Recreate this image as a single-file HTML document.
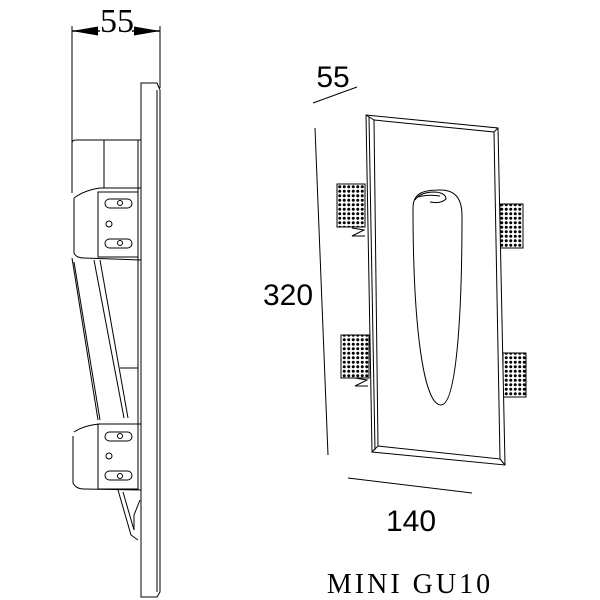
<!DOCTYPE html>
<html><head><style>body{margin:0;background:#fff}svg{display:block}</style></head><body>
<svg width="600" height="600" viewBox="0 0 600 600" xmlns="http://www.w3.org/2000/svg">
<defs>
<pattern id="dots" width="4.5" height="4.5" patternUnits="userSpaceOnUse"><rect width="4.5" height="4.5" fill="#fff"/><circle cx="2.25" cy="2.25" r="1.5" fill="#000"/></pattern>
<marker id="ar" markerUnits="userSpaceOnUse" markerWidth="26" markerHeight="9" refX="26" refY="4.5" orient="auto"><path d="M0,0L26,4.5L0,9z" fill="#000"/></marker>
</defs>
<g fill="none" stroke="#000" stroke-width="1">
<!-- left dimension -->
<line x1="72" y1="26" x2="72" y2="193"/>
<line x1="160" y1="26" x2="160" y2="88"/>
<line x1="100" y1="31" x2="72" y2="31" stroke-width="1.5" marker-end="url(#ar)"/>
<line x1="132" y1="31" x2="160" y2="31" stroke-width="1.5" marker-end="url(#ar)"/>
<!-- plate -->
<path d="M141,83 H157 L160,90 V592 L157,597 H141 Z"/>
<line x1="157" y1="90" x2="157" y2="592"/>
<!-- body -->
<path d="M72,143 Q72,140 76,140 H141"/>
<line x1="104" y1="140" x2="104" y2="188"/>
<line x1="138" y1="140" x2="138" y2="490"/>
<path d="M74,198 Q85,190 100,188 H141"/>
<path d="M74,198 V253 Q76,258 84,258 L141,260"/>
<rect x="98" y="192" width="40" height="65"/>
<rect x="105" y="199" width="27" height="9" rx="4.5"/><circle cx="120" cy="203" r="2.5"/>
<rect x="105" y="239" width="27" height="9" rx="4.5"/><circle cx="120" cy="243" r="2.5"/>
<circle cx="109" cy="224" r="3"/>
<path d="M72,258 L98,420"/><path d="M74,262 L100,420"/>
<path d="M94,260 L124,418"/><path d="M100,260 L128,418"/>
<line x1="120" y1="368" x2="138" y2="368"/>
<path d="M74,432 Q85,425 100,424 H141"/>
<path d="M73,436 V483 Q76,489 84,489 L141,490"/>
<rect x="98" y="424" width="40" height="65"/>
<rect x="105" y="432" width="27" height="9" rx="4.5"/><circle cx="120" cy="436" r="2.5"/>
<rect x="105" y="471" width="27" height="9" rx="4.5"/><circle cx="120" cy="476" r="2.5"/>
<circle cx="109" cy="456" r="3"/>
<path d="M118,490 L131,535 L138,540"/><path d="M123,492 L134,530 V515 L140,500"/>
<!-- right: dimensions -->
<line x1="313" y1="103" x2="357" y2="87"/>
<line x1="315" y1="128" x2="328" y2="455"/>
<line x1="348" y1="478" x2="472" y2="493"/>
<!-- tabs -->
<rect x="337" y="184" width="28" height="43" fill="url(#dots)"/>
<rect x="341" y="335" width="28" height="43" fill="url(#dots)"/>
<rect x="500" y="204" width="23" height="44" fill="url(#dots)"/>
<rect x="503" y="353" width="23" height="44" fill="url(#dots)"/>
<path d="M352,228 L364,230 L352,236 L365,236"/>
<path d="M355,378 L367,380 L355,386 L368,386"/>
<!-- frame -->
<path d="M366,115 L498,128 L505,465 L372,452 Z" fill="#fff"/>
<path d="M374,120 L494,132 L500,459 L378,446 Z"/>
<line x1="366" y1="115" x2="374" y2="120"/><line x1="372" y1="452" x2="378" y2="446"/>
<line x1="505" y1="465" x2="500" y2="459"/><line x1="498" y1="128" x2="494" y2="132"/>
<line x1="369" y1="117" x2="375" y2="450"/>
<!-- oval -->
<path d="M413,208 C413,192 425,190 440,190 C455,190 462,198 462,216 C462,320 456,405 441,405 C424,405 413,330 413,208 Z"/>
<path d="M415,200 Q420,192 435,192 Q446,193 446,199 Q441,204 430,202"/>
<path d="M418,197 Q428,194 440,196"/>
</g>
<g font-family="Liberation Serif, serif" fill="#000">
<text x="117" y="32" font-size="34" text-anchor="middle">55</text>
<text x="410" y="593" font-size="28" text-anchor="middle" letter-spacing="3">MINI GU10</text>
</g>
<g font-family="Liberation Sans, sans-serif" fill="#000" font-size="30" text-anchor="middle">
<text x="333" y="87">55</text>
<text x="288" y="305">320</text>
<text x="411" y="531">140</text>
</g>
</svg>
</body></html>
